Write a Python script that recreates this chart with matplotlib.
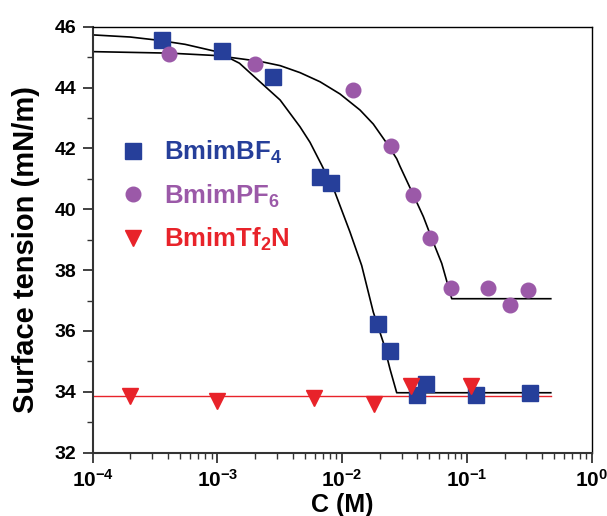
import matplotlib
matplotlib.use("Agg")
import matplotlib.pyplot as plt
import numpy as np

plt.rcParams['font.family'] = ['Liberation Sans', 'DejaVu Sans']
plt.rcParams['mathtext.fontset'] = 'custom'
plt.rcParams['mathtext.rm'] = 'Liberation Sans'
plt.rcParams['mathtext.bf'] = 'Liberation Sans:bold'

# ── data ─────────────────────────────────────────────────────────────────────
bf4_c = [3.57e-4, 1.08e-3, 2.77e-3, 6.6e-3, 8.1e-3, 0.0195, 0.024, 0.040, 0.047, 0.119, 0.319]
bf4_g = [45.56, 45.20, 44.34, 41.05, 40.85, 36.22, 35.35, 33.88, 34.25, 33.90, 33.96]

pf6_c = [4.1e-4, 2.0e-3, 0.0122, 0.0244, 0.0368, 0.051, 0.074, 0.148, 0.221, 0.31]
pf6_g = [45.10, 44.77, 43.92, 42.08, 40.47, 39.05, 37.40, 37.40, 36.85, 37.36]

tf2n_c = [2.0e-4, 1.0e-3, 5.9e-3, 0.018, 0.0355, 0.107]
tf2n_g = [33.85, 33.70, 33.80, 33.60, 34.18, 34.20]

# fitted curves
bf4_fit_c = [1e-4, 2.0e-4, 3.26e-4, 5.5e-4, 9.86e-4, 1.5e-3, 2.19e-3, 3.18e-3, 4.59e-3, 5.52e-3,
             6.85e-3, 8.76e-3, 0.01155, 0.01433, 0.01775, 0.02136, 0.02416, 0.02735, 0.47]
bf4_fit_g = [45.73, 45.66, 45.56, 45.42, 45.18, 44.80, 44.19, 43.59, 42.71, 42.20,
             41.45, 40.55, 39.25, 38.15, 36.62, 35.62, 34.75, 33.97, 33.97]

pf6_fit_c = [1e-4, 4.17e-4, 9.86e-4, 2.19e-3, 3.18e-3, 4.59e-3, 6.64e-3, 9.59e-3, 0.0139,
             0.01775, 0.02275, 0.02735, 0.0290, 0.0372, 0.0447, 0.0521, 0.0628, 0.0755, 0.47]
pf6_fit_g = [45.18, 45.13, 45.05, 44.86, 44.72, 44.49, 44.19, 43.79, 43.26,
             42.80, 42.17, 41.66, 41.42, 40.47, 39.76, 39.05, 38.22, 37.06, 37.06]

tf2n_fit_c = [1e-4, 0.47]
tf2n_fit_g = [33.87, 33.87]

BLUE = '#263f9a'
PURPLE = '#9b59a8'
RED = '#e8232a'

fig = plt.figure(figsize=(6.07, 5.16), dpi=100)
ax = fig.add_axes([0.1527, 0.1227, 0.8221, 0.8256])

ax.plot(bf4_fit_c, bf4_fit_g, color='black', lw=1.2, zorder=2)
ax.plot(pf6_fit_c, pf6_fit_g, color='black', lw=1.2, zorder=2)
ax.plot(tf2n_fit_c, tf2n_fit_g, color=RED, lw=1.0, zorder=2)

h1, = ax.plot(bf4_c, bf4_g, 's', color=BLUE, ms=11, mec=BLUE, ls='none', zorder=3)
h2, = ax.plot(pf6_c, pf6_g, 'o', color=PURPLE, ms=10.5, mec=PURPLE, ls='none', zorder=3)
h3, = ax.plot(tf2n_c, tf2n_g, 'v', color=RED, ms=11, mec=RED, ls='none', zorder=3)

ax.set_xscale('log')
ax.set_xlim(1e-4, 1)
ax.set_ylim(32, 46)
ax.set_yticks(np.arange(32, 47, 2))
ax.set_yticks(np.arange(33, 46, 2), minor=True)

ax.tick_params(axis='both', which='major', direction='out', length=7, width=1.3,
               color='#333333')
ax.tick_params(axis='y', which='major', labelsize=14, pad=5)
ax.tick_params(axis='x', which='major', labelsize=15, pad=5)
ax.tick_params(axis='both', which='minor', direction='out', length=4, width=1.0,
               color='#333333')
for lab in ax.get_xticklabels() + ax.get_yticklabels():
    lab.set_fontweight('bold')
ax.xaxis.set_major_formatter(matplotlib.ticker.FuncFormatter(
    lambda v, p: r'$\mathbf{10^{%d}}$' % round(np.log10(v))))

for side in ['left', 'bottom']:
    ax.spines[side].set_linewidth(1.5)
    ax.spines[side].set_color('#333333')
for side in ['top', 'right']:
    ax.spines[side].set_linewidth(1.0)

ax.set_xlabel('C (M)', fontsize=18, fontweight='bold', labelpad=1)
ax.set_ylabel('Surface tension (mN/m)', fontsize=21, fontweight='bold')
ax.yaxis.set_label_coords(-0.106, 0.478)

leg = ax.legend([h1, h2, h3],
                [r'$\mathbf{BmimBF_4}$', r'$\mathbf{BmimPF_6}$', r'$\mathbf{BmimTf_2N}$'],
                loc='upper left', bbox_to_anchor=(0.009, 0.79), frameon=False,
                fontsize=18.5, handlelength=1.0, handletextpad=0.7, labelspacing=0.62,
                labelcolor=[BLUE, PURPLE, RED])

fig.savefig('out.png', dpi=100)
